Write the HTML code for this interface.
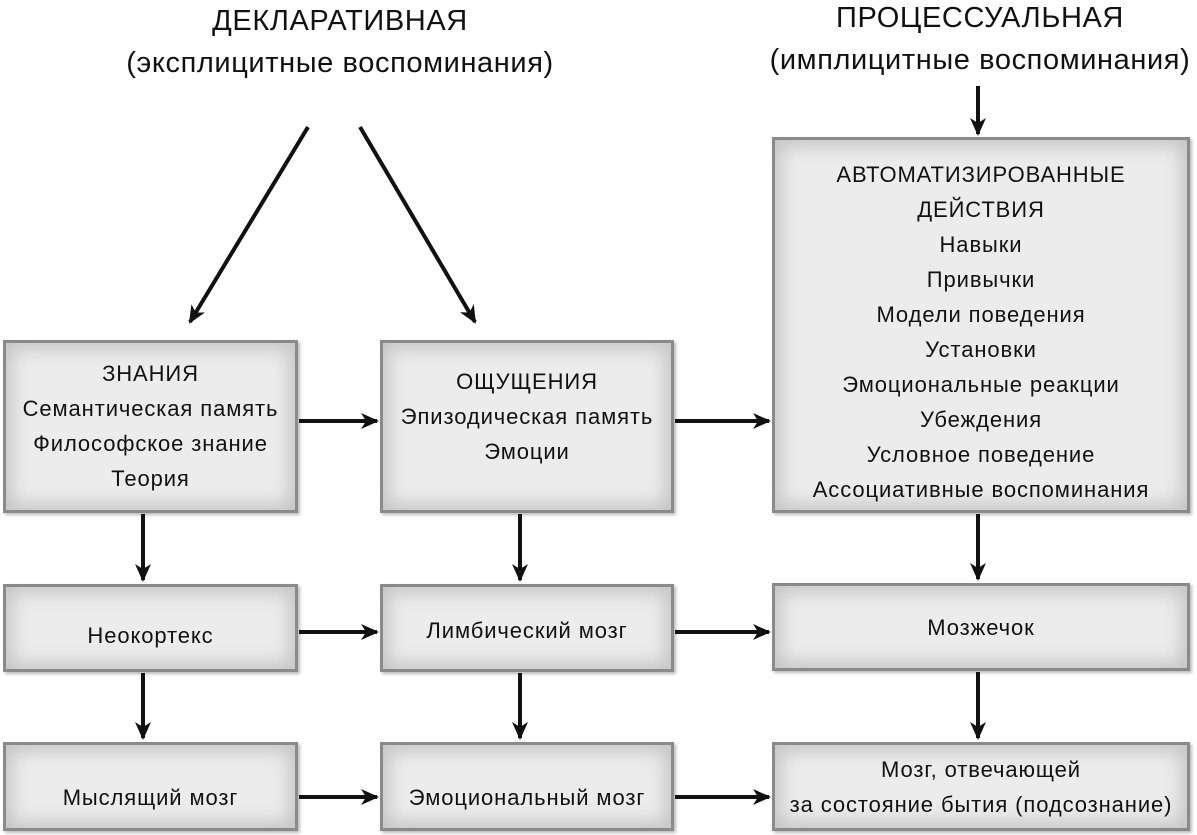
<!DOCTYPE html>
<html><head><meta charset="utf-8"><style>
body{margin:0;width:1197px;height:835px;background:#fff;position:relative;overflow:hidden;font-family:"Liberation Sans","DejaVu Sans",sans-serif;color:#111}
.b{position:absolute;box-sizing:border-box;border:3px solid #8a8a8a;background:#ececec;box-shadow:inset 0 0 18px 6px #c4c4c4, 2px 2px 3px #bbb;display:flex;flex-direction:column;justify-content:center;align-items:center;text-align:center;font-size:22px;letter-spacing:0.9px;line-height:35px;white-space:nowrap}
.t{position:absolute;text-align:center;font-size:29px;letter-spacing:0.6px;line-height:42px;white-space:nowrap}
svg{position:absolute;left:0;top:0}
</style></head><body>
<div class="t" style="left:40px;top:0px;width:600px">ДЕКЛАРАТИВНАЯ<br>(эксплицитные воспоминания)</div>
<div class="t" style="left:740px;top:-3px;width:480px">ПРОЦЕССУАЛЬНАЯ<br>(имплицитные воспоминания)</div>

<div class="b" style="left:3px;top:340px;width:295px;height:173px;padding-bottom:2px">ЗНАНИЯ<br>Семантическая память<br>Философское знание<br>Теория</div>
<div class="b" style="left:380px;top:340px;width:294px;height:173px;padding-bottom:20px">ОЩУЩЕНИЯ<br>Эпизодическая память<br>Эмоции</div>
<div class="b" style="left:772px;top:137px;width:418px;height:376px;padding-top:14px">АВТОМАТИЗИРОВАННЫЕ<br>ДЕЙСТВИЯ<br>Навыки<br>Привычки<br>Модели поведения<br>Установки<br>Эмоциональные реакции<br>Убеждения<br>Условное поведение<br>Ассоциативные воспоминания</div>

<div class="b" style="left:3px;top:584px;width:295px;height:88px;padding-top:14px">Неокортекс</div>
<div class="b" style="left:380px;top:584px;width:294px;height:88px;padding-top:4px">Лимбический мозг</div>
<div class="b" style="left:772px;top:583px;width:418px;height:88px;padding-bottom:0px">Мозжечок</div>

<div class="b" style="left:3px;top:742px;width:295px;height:89px;padding-top:22px">Мыслящий мозг</div>
<div class="b" style="left:380px;top:742px;width:294px;height:89px;padding-top:22px">Эмоциональный мозг</div>
<div class="b" style="left:772px;top:742px;width:418px;height:89px">Мозг, отвечающей<br>за состояние бытия (подсознание)</div>

<svg width="1197" height="835">
<defs><marker id="m" markerWidth="18" markerHeight="16" refX="16" refY="8" orient="auto" markerUnits="userSpaceOnUse"><path d="M0,0 L18,8 L0,16 L5,8z" fill="#111"/></marker></defs>
<g stroke="#111" stroke-width="4" fill="none" marker-end="url(#m)">
<line x1="308" y1="127" x2="190" y2="322"/>
<line x1="360" y1="127" x2="475" y2="322"/>
<line x1="978" y1="86" x2="978" y2="134"/>
<line x1="143" y1="514" x2="143" y2="580"/>
<line x1="520" y1="514" x2="520" y2="580"/>
<line x1="978" y1="514" x2="978" y2="579"/>
<line x1="143" y1="673" x2="143" y2="738"/>
<line x1="520" y1="673" x2="520" y2="738"/>
<line x1="978" y1="672" x2="978" y2="738"/>
<line x1="299" y1="421" x2="377" y2="421"/>
<line x1="675" y1="421" x2="769" y2="421"/>
<line x1="299" y1="632" x2="377" y2="632"/>
<line x1="675" y1="632" x2="769" y2="632"/>
<line x1="299" y1="797" x2="377" y2="797"/>
<line x1="675" y1="797" x2="769" y2="797"/>
</g></svg>
</body></html>
